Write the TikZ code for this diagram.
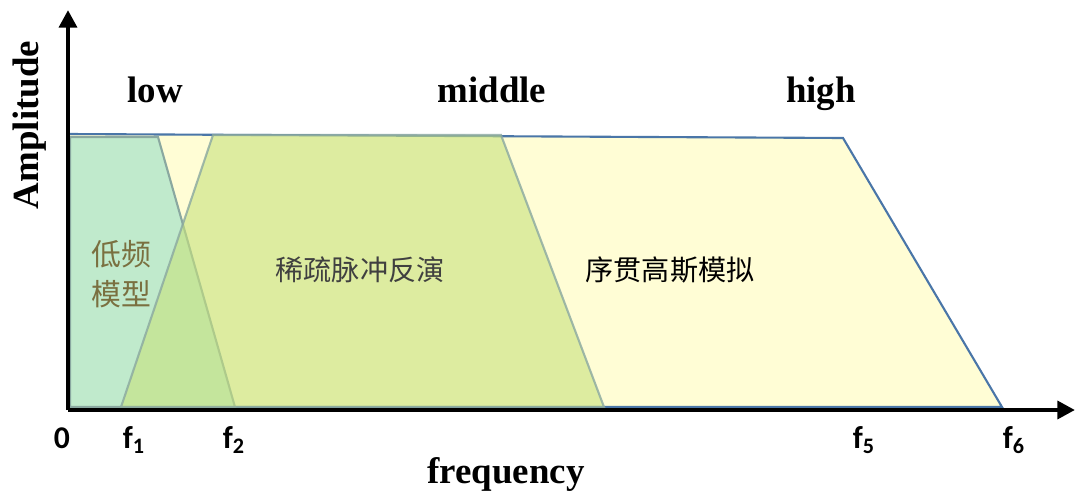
\documentclass[tikz,border=0pt]{standalone}
\usepackage{fontspec}
\setmainfont{Liberation Serif}
\newfontfamily\tickfont{Carlito}
\newfontfamily\cjk{Noto Sans CJK SC}
\usetikzlibrary{arrows.meta}

\definecolor{edgeblue}{RGB}{74,118,168}
\definecolor{edgegray}{RGB}{138,168,160}
\definecolor{highfill}{RGB}{255,253,213}
\definecolor{lowfill}{RGB}{192,234,204}
\definecolor{midfill}{RGB}{199,226,125}
\definecolor{lowtext}{RGB}{122,112,64}
\definecolor{midtext}{RGB}{64,64,64}

\tikzset{
  band/.style={font=\bfseries\fontsize{21}{24}\selectfont},
  tick/.style={font=\tickfont\bfseries\fontsize{18}{20}\selectfont},
  method/.style={font=\cjk\fontsize{16}{18}\selectfont}
}

\begin{document}
\begin{tikzpicture}[x=0.02cm, y=-0.02cm, >={Triangle[length=10pt,width=10pt]}]
    \useasboundingbox (0,0) rectangle (1076,494);

    % high band: sequential gaussian simulation
    \filldraw[fill=highfill, draw=edgeblue, line width=1.2pt]
      (68,134) -- (843,138) -- (1002,407) -- (68,407) -- cycle;

    % low band: low-frequency model
    \filldraw[fill=lowfill, draw=edgegray, line width=1.2pt]
      (70,137) -- (158,137) -- (235,407) -- (70,407) -- cycle;

    % middle band: sparse spike inversion
    \filldraw[fill=midfill, fill opacity=0.6, draw=edgegray, draw opacity=0.8, line width=1.2pt]
      (121,407) -- (213,135) -- (501,135) -- (604,407) -- cycle;

    % axes
    \coordinate (O) at (68,410);
    \coordinate (Xend) at (1075,410);
    \coordinate (Yend) at (68,10);
    \draw[line width=2.8pt, ->] (O) -- (Xend);
    \draw[line width=2.8pt, ->] (O) -- (Yend);

    \node[band, rotate=90] (amp) at (30,125) {Amplitude};
    \node[band] (freq) at (506,474) {frequency};

    \node[band, anchor=base] (low) at (155,102) {low};
    \node[band, anchor=base] (mid) at (492,102) {middle};
    \node[band, anchor=base] (high) at (821,102) {high};

    \node[tick] (t0) at (62,438) {0};
    \node[tick] (t1) at (134,440) {f\textsubscript{1}};
    \node[tick] (t2) at (234,440) {f\textsubscript{2}};
    \node[tick] (t5) at (864,440) {f\textsubscript{5}};
    \node[tick] (t6) at (1014,440) {f\textsubscript{6}};

    \node[method, text=lowtext, font=\cjk\fontsize{17}{22.7}\selectfont, align=center]
      (lowm) at (121,274) {低频\\模型};
    \node[method, text=midtext] (midm) at (360,270) {稀疏脉冲反演};
    \node[method, text=black] (highm) at (670,270) {序贯高斯模拟};
  \end{tikzpicture}
\end{document}
